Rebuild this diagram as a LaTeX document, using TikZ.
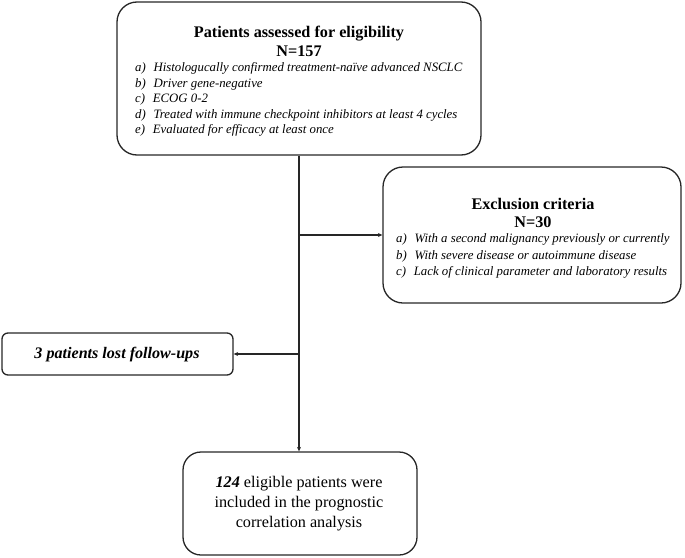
\documentclass[tikz,border=0pt]{standalone}
\usepackage{fontspec}
\setmainfont{Liberation Serif}
\usetikzlibrary{arrows.meta}
\begin{document}
\begin{tikzpicture}[x=1pt,y=-1pt,
  box/.style={draw=black!85, line width=1.3pt, rectangle, rounded corners=#1, inner sep=0pt},
  box/.default=14pt,
  ttl/.style={font=\fontsize{16.2}{18}\selectfont\bfseries, inner sep=0pt},
  itm/.style={font=\fontsize{12.8}{14}\selectfont\itshape, anchor=west, inner sep=0pt},
  conn/.style={draw=black!85, line width=1.1pt},
  arr/.style={conn, -{Stealth[length=4.5pt,width=4pt]}}]
\useasboundingbox (0,0) rectangle (685,557);
% boxes
\node[box=20pt, minimum width=364pt, minimum height=153pt] (elig) at (299,78.5) {};
\node[box=20pt, minimum width=298pt, minimum height=136pt] (excl) at (532,235) {};
\node[box=6pt, minimum width=231pt, minimum height=42pt] (lost) at (117.5,354) {};
\node[box=18pt, minimum width=234pt, minimum height=103pt] (final) at (300,503.5) {};
% texts
\node[ttl] (t1) at (299,34) {Patients assessed for eligibility};
\node[ttl] (t2) at (299,51) {N=157};
\node[itm] (a1) at (135,68.5) {a)\hspace{0.6em}Histologucally confirmed treatment-naïve advanced NSCLC};
\node[itm] (a2) at (135,84) {b)\hspace{0.6em}Driver gene-negative};
\node[itm] (a3) at (135,99.5) {c)\hspace{0.6em}ECOG 0-2};
\node[itm] (a4) at (135,115) {d)\hspace{0.6em}Treated with immune checkpoint inhibitors at least 4 cycles};
\node[itm] (a5) at (135,130.5) {e)\hspace{0.6em}Evaluated for efficacy at least once};
\node[ttl] (e1) at (533,204) {Exclusion criteria};
\node[ttl] (e2) at (533,222) {N=30};
\node[itm] (b1) at (396,239.5) {a)\hspace{0.6em}With a second malignancy previously or currently};
\node[itm] (b2) at (396,256) {b)\hspace{0.6em}With severe disease or autoimmune disease};
\node[itm] (b3) at (396,272) {c)\hspace{0.6em}Lack of clinical parameter and laboratory results};
\node[font=\fontsize{16.1}{18}\selectfont\bfseries\itshape, inner sep=0pt] (l1) at (117,355) {3 patients lost follow-ups};
\node[font=\fontsize{16.2}{20}\selectfont, align=center, inner sep=0pt] (f1) at (299,504) {\textbf{\textit{124}} eligible patients were\\included in the prognostic\\correlation analysis};
% connectors
\coordinate (j1) at (299,235);
\coordinate (j2) at (299,354);
\draw[conn] (elig.south -| j1) -- (j1) -- (j2);
\draw[arr] (j2) -- (j2 |- final.north);
\draw[arr] (j1) -- (j1 -| excl.west);
\draw[arr] (j2) -- (j2 -| lost.east);
\end{tikzpicture}
\end{document}
